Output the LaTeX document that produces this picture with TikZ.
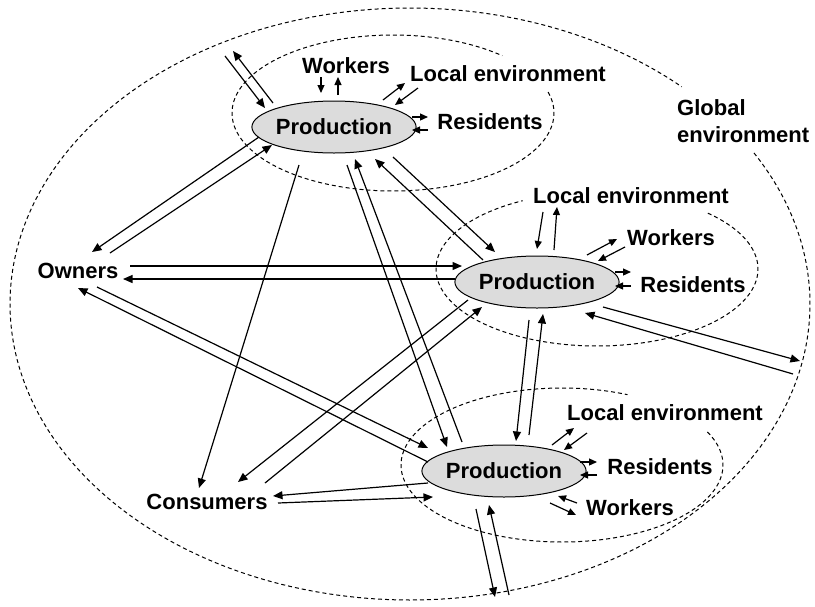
\documentclass[tikz,border=0pt]{standalone}
\usepackage{fontspec}
\setmainfont{Liberation Sans}
\usetikzlibrary{arrows.meta,shapes.geometric}
\definecolor{prodgray}{HTML}{DCDCDC}
\begin{document}
\begin{tikzpicture}[x=1pt,y=-1pt,
  lbl/.style={font=\fontsize{22}{27}\selectfont\bfseries, inner sep=0pt},
  prod/.style={ellipse, draw, line width=1pt, fill=prodgray, minimum width=142pt, minimum height=52pt, inner sep=0pt, font=\fontsize{22}{27}\selectfont\bfseries},
  arr/.style={-{Triangle[length=9.5pt,width=8pt]}, line width=1.2pt},
  sarr/.style={-{Triangle[length=8pt,width=7pt]}, line width=1.2pt},
  dsh/.style={line width=1pt, dash pattern=on 4pt off 3pt}]
\useasboundingbox (0,0) rectangle (815,606);

% global and local environments (dashed)
\draw[dsh] plot[domain=-30.7:312.8, samples=240, smooth] ({410+400*cos(\x)},{304+296*sin(\x)});
\draw[dsh] plot[domain=-15.6:312.7, samples=160, smooth] ({393+161*cos(\x)},{113+78*sin(\x)});
\draw[dsh] plot[domain=-46.5:242.5, samples=160, smooth] ({597+161*cos(\x)},{269+77*sin(\x)});
\draw[dsh] plot[domain=-25.4:294, samples=160, smooth] ({562+161*cos(\x)},{465+77*sin(\x)});

% main nodes
\node[prod] (p1) at (334,127) {Production};
\node[prod] (p2) at (537,282) {Production};
\node[prod] (p3) at (504,471) {Production};
\node[lbl] (own) at (78,271) {Owners};
\node[lbl] (con) at (207,502) {Consumers};
\node[lbl, anchor=west, align=left] (glob) at (677,121.5) {Global\\environment};

% local labels
\node[lbl] (w1) at (346,66) {Workers};
\node[lbl] (le1) at (508,74) {Local environment};
\node[lbl] (r1) at (490,122) {Residents};
\node[lbl] (le2) at (631,196) {Local environment};
\node[lbl] (w2) at (671,238) {Workers};
\node[lbl] (r2) at (693,285) {Residents};
\node[lbl] (le3) at (665,413) {Local environment};
\node[lbl] (r3) at (660,467) {Residents};
\node[lbl] (w3) at (630,508) {Workers};

% points on the global environment
\coordinate (g1) at (233,51);
\coordinate (g1b) at (225,56);
\coordinate (g2) at (800,361);
\coordinate (g2b) at (793,374);
\coordinate (g3) at (495,597);
\coordinate (g3b) at (509,595);

% owners
\draw[arr] ([shift={(-75,10)}]p1.center) -- ([shift={(14,-19)}]own.center);
\draw[arr] ([shift={(32,-18)}]own.center) -- ([shift={(-62,18)}]p1.center);
\draw[arr] ([shift={(52,-5)}]own.center) -- ([shift={(-75,-16)}]p2.center);
\draw[arr] ([shift={(-82,-3)}]p2.center) -- ([shift={(45,8)}]own.center);
\draw[arr] ([shift={(19,16)}]own.center) -- ([shift={(-76,-23)}]p3.center);
\draw[arr] ([shift={(-76,-9)}]p3.center) -- ([shift={(0,17)}]own.center);

% consumers
\draw[arr] ([shift={(-35,38)}]p1.center) -- ([shift={(-8,-14)}]con.center);
\draw[arr] ([shift={(-69,18)}]p2.center) -- ([shift={(31,-20)}]con.center);
\draw[arr] ([shift={(58,-19)}]con.center) -- ([shift={(-55,25)}]p2.center);
\draw[arr] ([shift={(-76,12)}]p3.center) -- ([shift={(66,-6)}]con.center);
\draw[arr] ([shift={(71,1)}]con.center) -- ([shift={(-71,26)}]p3.center);

% production to production
\draw[arr] ([shift={(13,38)}]p1.center) -- ([shift={(-57,-24)}]p3.center);
\draw[arr] ([shift={(-42,-29)}]p3.center) -- ([shift={(21,32)}]p1.center);
\draw[arr] ([shift={(59,30)}]p1.center) -- ([shift={(-42,-30)}]p2.center);
\draw[arr] ([shift={(-54,-22)}]p2.center) -- ([shift={(41,32)}]p1.center);
\draw[arr] ([shift={(-8,38)}]p2.center) -- ([shift={(12,-30)}]p3.center);
\draw[arr] ([shift={(25,-36)}]p3.center) -- ([shift={(6,32)}]p2.center);

% global environment
\draw[arr] ([shift={(-61,-24)}]p1.center) -- (g1);
\draw[arr] (g1b) -- ([shift={(-69,-19)}]p1.center);
\draw[arr] ([shift={(66,25)}]p2.center) -- (g2);
\draw[arr] (g2b) -- ([shift={(48,31)}]p2.center);
\draw[arr] ([shift={(-28,38)}]p3.center) -- (g3);
\draw[arr] (g3b) -- ([shift={(-15,34)}]p3.center);

% local arrows, production 1
\draw[sarr] ([shift={(-25,11)}]w1.center) -- ([shift={(-25,27)}]w1.center);
\draw[sarr] ([shift={(-8,29)}]w1.center) -- ([shift={(-8,11)}]w1.center);
\draw[sarr] ([shift={(-125,26)}]le1.center) -- ([shift={(-103,9)}]le1.center);
\draw[sarr] ([shift={(-90,14)}]le1.center) -- ([shift={(-113,31)}]le1.center);
\draw[sarr] ([shift={(-78,-5)}]r1.center) -- ([shift={(-62,-5)}]r1.center);
\draw[sarr] ([shift={(-62,8)}]r1.center) -- ([shift={(-78,8)}]r1.center);

% local arrows, production 2
\draw[sarr] ([shift={(-88,16)}]le2.center) -- ([shift={(-94,53)}]le2.center);
\draw[sarr] ([shift={(-77,54)}]le2.center) -- ([shift={(-74,11)}]le2.center);
\draw[sarr] ([shift={(-84,17)}]w2.center) -- ([shift={(-54,1)}]w2.center);
\draw[sarr] ([shift={(-46,9)}]w2.center) -- ([shift={(-73,23)}]w2.center);
\draw[sarr] ([shift={(-78,-13)}]r2.center) -- ([shift={(-62,-13)}]r2.center);
\draw[sarr] ([shift={(-62,1)}]r2.center) -- ([shift={(-78,1)}]r2.center);

% local arrows, production 3
\draw[sarr] ([shift={(-113,32)}]le3.center) -- ([shift={(-91,15)}]le3.center);
\draw[sarr] ([shift={(-78,20)}]le3.center) -- ([shift={(-101,37)}]le3.center);
\draw[sarr] ([shift={(-80,-5)}]r3.center) -- ([shift={(-63,-5)}]r3.center);
\draw[sarr] ([shift={(-63,8)}]r3.center) -- ([shift={(-80,8)}]r3.center);
\draw[sarr] ([shift={(-53,-5)}]w3.center) -- ([shift={(-72,-12)}]w3.center);
\draw[sarr] ([shift={(-80,-5)}]w3.center) -- ([shift={(-54,7)}]w3.center);
\end{tikzpicture}
\end{document}
